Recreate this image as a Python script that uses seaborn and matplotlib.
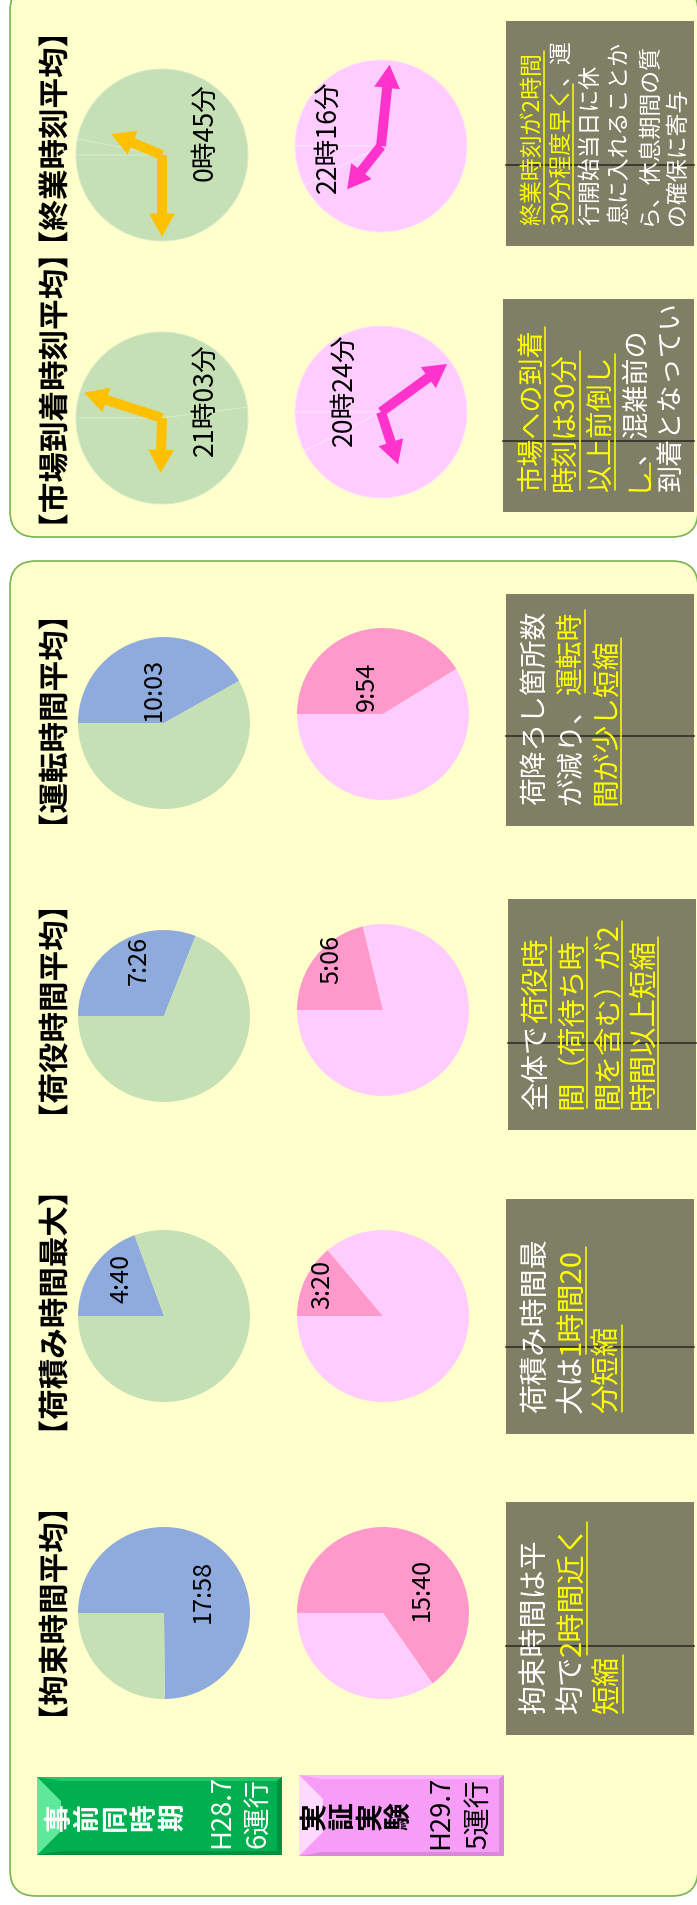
import numpy as np
import seaborn as sns
import matplotlib.pyplot as plt
from matplotlib.patches import FancyBboxPatch, Rectangle, Polygon, PathPatch
from matplotlib.textpath import TextPath
from matplotlib.font_manager import FontProperties
from matplotlib.transforms import Affine2D

# ---------------- data ----------------
# durations, before (事前同時期 H28.7) and after (実証実験 H29.7)
duration_titles = ['【運転時間平均】', '【荷役時間平均】', '【荷積み時間最大】', '【拘束時間平均】']
duration_before = ['10:03', '7:26', '4:40', '17:58']
duration_after = ['9:54', '5:06', '3:20', '15:40']

# clock times
clock_titles = ['【終業時刻平均】', '【市場到着時刻平均】']
clock_before = ['0:45', '21:03']
clock_after = ['22:16', '20:24']
# faint split line on the clock faces (fraction of the face)
clock_split_before = [0.03, 0.48]
clock_split_after = [0.925, 0.925]

legend_before = ['事前同時期', 'H28.7', '6運行']
legend_after = ['実証実験', 'H29.7', '5運行']

# comment boxes: list of lines, each line = list of (text, highlighted)
note_shugyo = [[('終業時刻が2時間', True)],
               [('30分程度早く', True), ('、運', False)],
               [('行開始当日に休', False)],
               [('息に入れることか', False)],
               [('ら、休息期間の質', False)],
               [('の確保に寄与', False)]]
note_shijo = [[('市場への到着', True)],
              [('時刻は30分', True)],
              [('以上前倒し', True)],
              [('し', True), ('、混雑前の', False)],
              [('到着となってい', False)],
              [('る', False)]]
note_unten = [[('荷降ろし箇所数', False)],
              [('が減り、', False), ('運転時', True)],
              [('間が少し短縮', True)]]
note_niyaku = [[('全体で', False), ('荷役時', True)],
               [('間（荷待ち時', True)],
               [('間を含む）が2', True)],
               [('時間以上短縮', True)]]
note_nizumi = [[('荷積み時間最', False)],
               [('大は', False), ('1時間20', True)],
               [('分短縮', True)]]
note_kosoku = [[('拘束時間は平', False)],
               [('均で', False), ('2時間近く', True)],
               [('短縮', True)]]

# ---------------- style / layout ----------------
W, H = 697, 1906
R = 86
GREEN_BG, BLUE = '#C5E0B4', '#8FAADC'
PINK_BG, PINK = '#FFCCFF', '#FF99CC'
ORANGE, MAGENTA = '#FFC000', '#FF33CC'
PANEL_BG, PANEL_EDGE = '#FFFFCC', '#78B450'
NOTE_BG, YELLOW = '#7F7F66', '#FFFF00'

sns.set_theme(style='white')
plt.rcParams['font.family'] = ['Noto Sans CJK JP', 'DejaVu Sans']


def to_hours(s):
    h, m = s.split(':')
    return int(h) + int(m) / 60


fig = plt.figure(figsize=(W / 100, H / 100), dpi=100)
fig.patch.set_facecolor('white')
ax = fig.add_axes([0, 0, 1, 1])
ax.set_xlim(0, W)
ax.set_ylim(H, 0)
ax.axis('off')
renderer = fig.canvas.get_renderer()


def fit_size(text, target_px, base=18, **kw):
    # font size that makes the text target_px long
    t = ax.text(0, 0, text, fontsize=base, **kw)
    w = t.get_window_extent(renderer).width
    t.remove()
    return base * target_px / w


dur_fs = fit_size('17:58', 63)
clock_fs = fit_size('0時45分', 98)
sub_fs = fit_size('6運行', 70)

# titles are drawn as paths so they can be squeezed along the reading direction like the source
title_prop = FontProperties(family='Noto Sans CJK JP', weight='bold')
ref_ext = TextPath((0, 0), '【終業時刻平均】', size=30, prop=title_prop).get_extents()
su = 204 / ref_ext.width
sv = 29 / ref_ext.height


def vertical_title(s, cx, cy):
    p = TextPath((0, 0), s, size=30, prop=title_prop)
    e = p.get_extents()
    tr = Affine2D().translate(-(e.x0 + e.x1) / 2, -(e.y0 + e.y1) / 2).scale(su, sv) + \
        Affine2D(np.array([[0, -1, cx], [-1, 0, cy], [0, 0, 1.0]]))
    ax.add_patch(PathPatch(tr.transform_path(p), fc='black', ec='none', zorder=3))


# panels
for y0, y1 in [(-14, 538), (562, 1897)]:
    ax.add_patch(FancyBboxPatch((10, y0), 688, y1 - y0, boxstyle='round,pad=0,rounding_size=26',
                                fc=PANEL_BG, ec=PANEL_EDGE, lw=1.2, zorder=0))


def sub_axes(cx, cy):
    a = fig.add_axes([(cx - R) / W, 1 - (cy + R) / H, 2 * R / W, 2 * R / H])
    a.axis('off')
    return a


def duration_pie(cx, cy, val, colors, off):
    a = sub_axes(cx, cy)
    h = to_hours(val)
    a.pie([h, 24 - h], colors=colors, startangle=180, counterclock=False,
          wedgeprops=dict(linewidth=0))
    a.set_xlim(-1, 1)
    a.set_ylim(-1, 1)
    a.text(off[0], off[1], val, rotation=90, ha='center', va='center', fontsize=dur_fs, color='black')


def clock(cx, cy, val, face, split, hand, off, edge):
    a = sub_axes(cx, cy)
    a.pie([split, 1 - split], colors=[face, face], startangle=180, counterclock=False,
          wedgeprops=dict(linewidth=0.7, edgecolor=edge))
    a.set_xlim(-1, 1)
    a.set_ylim(-1, 1)
    hh, mm = val.split(':')
    minute_deg = int(mm) * 6
    hour_deg = (int(hh) % 12 + int(mm) / 60) * 30
    for deg, length in [(minute_deg, 0.95), (hour_deg, 0.64)]:
        th = np.radians(180 - deg)
        a.arrow(0, 0, length * np.cos(th), length * np.sin(th), width=0.115, head_width=0.3,
                head_length=0.27, length_includes_head=True, fc=hand, ec='none', zorder=3)
    a.text(off[0], off[1], f'{int(hh)}時{mm}分', rotation=90, ha='center', va='center',
           fontsize=clock_fs, color='black')


# duration pies
dur_y_before = [724, 1017, 1317, 1614]
dur_y_after = [715, 1011, 1317, 1614]
off_before = [(-0.12, 0.4), (-0.29, 0.66), (-0.49, 0.45), (0.45, 0.26)]
off_after = [(-0.19, 0.33), (-0.6, 0.6), (-0.71, 0.38), (0.45, 0.28)]
for i in range(4):
    duration_pie(164, dur_y_before[i], duration_before[i], [BLUE, GREEN_BG], off_before[i])
    duration_pie(383, dur_y_after[i], duration_after[i], [PINK, PINK_BG], off_after[i])

# clocks
clk_y_before = [156, 419]
clk_y_after = [147, 413]
clk_off_before = [(0.5, 0.28), (0.5, 0.22)]
clk_off_after = [(-0.61, 0.12), (-0.43, 0.27)]
for i in range(2):
    clock(162, clk_y_before[i], clock_before[i], GREEN_BG, clock_split_before[i], ORANGE,
          clk_off_before[i], '#D8EACB')
    clock(381, clk_y_after[i], clock_after[i], PINK_BG, clock_split_after[i], MAGENTA,
          clk_off_after[i], '#FFE2FF')

# titles
for t, y in zip(clock_titles + duration_titles, [140, 392, 723, 1013, 1314, 1615]):
    vertical_title(t, 53, y)


def draw_note(box, lines, fs, pitch, mid):
    x0, y0, x1, y1 = box
    rect = Rectangle((x0, y0), x1 - x0, y1 - y0, fc=NOTE_BG, ec='none', zorder=2)
    ax.add_patch(rect)
    ax.plot([x0, x1], [mid, mid], color='#3A3A30', lw=1.4, zorder=3)
    em = fs * 100 / 72
    for i, line in enumerate(lines):
        x = x0 + 15 + em / 2 + i * pitch
        y = y1 - 22
        for seg, hl in line:
            c = YELLOW if hl else 'white'
            t = ax.text(x, y, seg, rotation=90, ha='center', va='bottom', color=c,
                        fontsize=fs, zorder=4)
            t.set_clip_path(rect)
            y_end = y - t.get_window_extent(renderer).height
            if hl:
                ln, = ax.plot([x + 0.5 * em] * 2, [y, y_end], color=YELLOW, lw=1.1, zorder=4)
                ln.set_clip_path(rect)
            y = y_end


draw_note((506, 22, 694, 247), note_shugyo, 16.5, 29, 166)
draw_note((503, 300, 694, 513), note_shijo, 19.5, 35, 442)
draw_note((506, 595, 694, 827), note_unten, 20, 36, 737)
draw_note((508, 900, 696, 1131), note_niyaku, 20.5, 35.5, 1044)
draw_note((506, 1200, 694, 1435), note_nizumi, 21, 36, 1348)
draw_note((506, 1503, 694, 1736), note_kosoku, 21, 36.5, 1647)


def legend_box(x0, y0, x1, y1, cols, labels, tcolor, char_x, sub_x):
    base, light, top, dark = cols
    ax.add_patch(Rectangle((x0, y0), x1 - x0, y1 - y0, fc=base, ec='none', zorder=2))
    ax.add_patch(Polygon([(x0, y0), (x1, y0), (x1 - 5, y0 + 4), (x0 + 24, y0 + 4)], fc=top, ec='none', zorder=2))
    ax.add_patch(Polygon([(x0, y1), (x1, y1), (x1 - 5, y1 - 4), (x0 + 24, y1 - 4)], fc=dark, ec='none', zorder=2))
    ax.add_patch(Polygon([(x1, y0), (x1, y1), (x1 - 5, y1 - 4), (x1 - 5, y0 + 4)], fc=dark, ec='none', zorder=2))
    ax.add_patch(Polygon([(x0, y0), (x0 + 24, y0 + 24), (x0 + 24, y1 - 24), (x0, y1)], fc=light, ec='none', zorder=2))
    ym = (y0 + y1) / 2
    for ch, cx in zip(labels[0], char_x):
        ax.text(cx, ym, ch, rotation=90, ha='center', va='center', fontsize=20,
                fontweight='bold', color=tcolor, zorder=3)
    for s, sx in zip(labels[1:], sub_x):
        ax.text(sx, y1 - 8, s, rotation=90, ha='center', va='bottom', fontsize=sub_fs,
                color=tcolor, zorder=3)


legend_box(37, 1778, 282, 1856, ('#00B050', '#5EE89A', '#2BC36A', '#00913F'), legend_before,
           'white', [60, 88, 116, 144, 173], [222, 258])
legend_box(299, 1776, 504, 1857, ('#F79DF7', '#FFD9FF', '#FCB8FC', '#D88AD8'), legend_after,
           'black', [315, 343, 371, 399], [441, 479])

fig.savefig('out.png', dpi=100, facecolor='white')
